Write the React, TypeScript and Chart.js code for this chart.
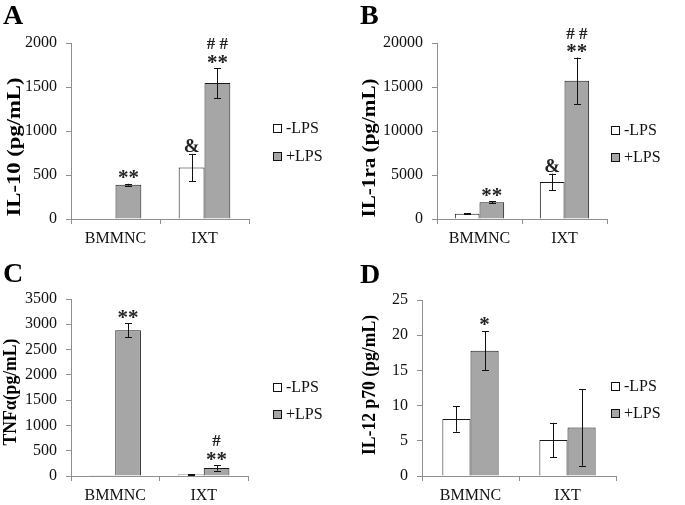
import React, { useEffect, useRef } from "react";
import { Chart, registerables } from "chart.js";

Chart.register(...registerables);

// ---------- data ----------
const categories = ["BMMNC", "IXT"];
const seriesNames = ["-LPS", "+LPS"];
const seriesColors = ["#ffffff", "#a6a6a6"];

// Panel A: IL-10
const il10Ticks = [0, 500, 1000, 1500, 2000];
const il10Minus = [5, 585];
const il10MinusErr = [0, 155];
const il10Plus = [390, 1545];
const il10PlusErr = [10, 170];
const il10MinusMarks = [[], ["&"]];
const il10PlusMarks = [["**"], ["**", "# #"]];

// Panel B: IL-1ra
const il1raTicks = [0, 5000, 10000, 15000, 20000];
const il1raMinus = [600, 4200];
const il1raMinusErr = [70, 950];
const il1raPlus = [1900, 15700];
const il1raPlusErr = [90, 2650];
const il1raMinusMarks = [[], ["&"]];
const il1raPlusMarks = [["**"], ["**", "# #"]];

// Panel C: TNFα
const tnfTicks = [0, 500, 1000, 1500, 2000, 2500, 3000, 3500];
const tnfMinus = [5, 30];
const tnfMinusErr = [0, 5];
const tnfPlus = [2880, 160];
const tnfPlusErr = [140, 55];
const tnfMinusMarks = [[], []];
const tnfPlusMarks = [["**"], ["**", "#"]];

// Panel D: IL-12 p70
const il12Ticks = [0, 5, 10, 15, 20, 25];
const il12Minus = [8.1, 5.1];
const il12MinusErr = [1.8, 2.45];
const il12Plus = [17.8, 6.9];
const il12PlusErr = [2.8, 5.45];
const il12MinusMarks = [[], []];
const il12PlusMarks = [["*"], []];

// ---------- layout ----------
type Box = { x: number; y: number; w: number; h: number };
type Area = { l: number; r: number; t: number; b: number };
type Panel = {
  letter: string;
  title: string;
  titleLen: number;
  ticks: number[];
  minus: number[];
  minusErr: number[];
  plus: number[];
  plusErr: number[];
  minusMarks: string[][];
  plusMarks: string[][];
  box: Box;
  area: Area;
  titlePos: { x: number; y: number };
  letterPos: { x: number; y: number };
  legendPos: { x: number; y1: number; y2: number };
};

const panels: Panel[] = [
  {
    letter: "A",
    title: "IL-10 (pg/mL)",
    titleLen: 139,
    ticks: il10Ticks,
    minus: il10Minus,
    minusErr: il10MinusErr,
    plus: il10Plus,
    plusErr: il10PlusErr,
    minusMarks: il10MinusMarks,
    plusMarks: il10PlusMarks,
    box: { x: 0, y: 0, w: 340, h: 250 },
    area: { l: 71, r: 249, t: 43, b: 219 },
    titlePos: { x: 15, y: 147 },
    letterPos: { x: 3, y: 24 },
    legendPos: { x: 273, y1: 128, y2: 156 },
  },
  {
    letter: "B",
    title: "IL-1ra (pg/mL)",
    titleLen: 139,
    ticks: il1raTicks,
    minus: il1raMinus,
    minusErr: il1raMinusErr,
    plus: il1raPlus,
    plusErr: il1raPlusErr,
    minusMarks: il1raMinusMarks,
    plusMarks: il1raPlusMarks,
    box: { x: 340, y: 0, w: 345, h: 250 },
    area: { l: 437, r: 607, t: 43, b: 219 },
    titlePos: { x: 370, y: 148 },
    letterPos: { x: 360, y: 24 },
    legendPos: { x: 611, y1: 130, y2: 157 },
  },
  {
    letter: "C",
    title: "TNFα(pg/mL)",
    titleLen: 107,
    ticks: tnfTicks,
    minus: tnfMinus,
    minusErr: tnfMinusErr,
    plus: tnfPlus,
    plusErr: tnfPlusErr,
    minusMarks: tnfMinusMarks,
    plusMarks: tnfPlusMarks,
    box: { x: 0, y: 250, w: 340, h: 255 },
    area: { l: 71, r: 248, t: 299, b: 476 },
    titlePos: { x: 11, y: 392 },
    letterPos: { x: 3, y: 282 },
    legendPos: { x: 273, y1: 387, y2: 414 },
  },
  {
    letter: "D",
    title: "IL-12 p70 (pg/mL)",
    titleLen: 140,
    ticks: il12Ticks,
    minus: il12Minus,
    minusErr: il12MinusErr,
    plus: il12Plus,
    plusErr: il12PlusErr,
    minusMarks: il12MinusMarks,
    plusMarks: il12PlusMarks,
    box: { x: 340, y: 250, w: 345, h: 255 },
    area: { l: 422, r: 616, t: 300, b: 476 },
    titlePos: { x: 370, y: 385 },
    letterPos: { x: 360, y: 283 },
    legendPos: { x: 611, y1: 386, y2: 413 },
  },
];

const SERIF = '"Liberation Serif", "Times New Roman", serif';
const AXIS_COLOR = "#8f8f8f";

function makeDecor(p: Panel) {
  const ox = p.box.x;
  const oy = p.box.y;
  return {
    id: "decor" + p.letter,
    afterDatasetsDraw(chart: any) {
      const ctx = chart.ctx as CanvasRenderingContext2D;
      const ys = chart.scales.y;
      const vals = [p.minus, p.plus];
      const errs = [p.minusErr, p.plusErr];
      const marks = [p.minusMarks, p.plusMarks];
      ctx.save();
      for (let d = 0; d < 2; d++) {
        const meta = chart.getDatasetMeta(d);
        meta.data.forEach((bar: any, j: number) => {
          const v = vals[d][j];
          const e = errs[d][j];
          const x = Math.round(bar.x) + 0.5;
          const yt = ys.getPixelForValue(v + e);
          const yb = ys.getPixelForValue(Math.max(v - e, 0));
          if (e > 0) {
            ctx.strokeStyle = "#111";
            ctx.lineWidth = 1;
            ctx.beginPath();
            ctx.moveTo(x, yt);
            ctx.lineTo(x, yb);
            ctx.moveTo(x - 3.5, Math.round(yt) + 0.5);
            ctx.lineTo(x + 3.5, Math.round(yt) + 0.5);
            ctx.moveTo(x - 3.5, Math.round(yb) + 0.5);
            ctx.lineTo(x + 3.5, Math.round(yb) + 0.5);
            ctx.stroke();
          }
          const top = Math.min(yt, ys.getPixelForValue(v));
          (marks[d][j] || []).forEach((txt: string, k: number) => {
            ctx.fillStyle = "#222";
            ctx.textAlign = "center";
            ctx.textBaseline = "alphabetic";
            let by = top;
            if (txt === "&") {
              ctx.font = `bold 19px ${SERIF}`;
              by = top - 2;
            } else if (txt.indexOf("*") >= 0) {
              ctx.font = `bold 21px ${SERIF}`;
              by = top + 0.5 - 16 * k;
            } else {
              ctx.font = `bold 17px ${SERIF}`;
              by = top - 19;
            }
            ctx.fillText(txt, bar.x, by);
          });
        });
      }
      ctx.restore();
    },
    afterDraw(chart: any) {
      const ctx = chart.ctx as CanvasRenderingContext2D;
      ctx.save();
      // panel letter
      ctx.fillStyle = "#000";
      ctx.font = `bold 28px ${SERIF}`;
      ctx.textAlign = "left";
      ctx.textBaseline = "alphabetic";
      ctx.fillText(p.letter, p.letterPos.x - ox, p.letterPos.y - oy);
      // y title (rotated)
      ctx.font = `bold 18px ${SERIF}`;
      const w = ctx.measureText(p.title).width;
      ctx.translate(p.titlePos.x - ox, p.titlePos.y - oy);
      ctx.rotate(-Math.PI / 2);
      ctx.scale(p.titleLen / w, 1);
      ctx.textAlign = "center";
      ctx.textBaseline = "middle";
      ctx.fillText(p.title, 0, 0);
      ctx.restore();
      // legend
      ctx.save();
      const ys = [p.legendPos.y1, p.legendPos.y2];
      chart.data.datasets.forEach((ds: any, i: number) => {
        const cy = ys[i] - oy;
        const sx = p.legendPos.x - ox;
        ctx.fillStyle = ds.backgroundColor;
        ctx.fillRect(sx, Math.round(cy - 4.5), 9, 9);
        ctx.strokeStyle = "#111";
        ctx.lineWidth = 1;
        ctx.strokeRect(sx + 0.5, Math.round(cy - 4.5) + 0.5, 8, 8);
        ctx.fillStyle = "#111";
        ctx.font = `16px ${SERIF}`;
        ctx.textAlign = "left";
        ctx.textBaseline = "middle";
        ctx.fillText(ds.label, sx + 13, cy + 1);
      });
      ctx.restore();
    },
  };
}

function PanelChart({ p }: { p: Panel }) {
  const ref = useRef<HTMLCanvasElement | null>(null);
  useEffect(() => {
    if (!ref.current) return;
    const lLocal = p.area.l - p.box.x;
    const rLocal = p.area.r - p.box.x;
    const tLocal = p.area.t - p.box.y;
    const bLocal = p.area.b - p.box.y;
    const tickMin = p.ticks[0];
    const tickMax = p.ticks[p.ticks.length - 1];
    const step = p.ticks[1] - p.ticks[0];
    const chart = new Chart(ref.current, {
      type: "bar",
      data: {
        labels: categories,
        datasets: [
          {
            label: seriesNames[0],
            data: p.minus,
            backgroundColor: seriesColors[0],
            borderColor: "#1a1a1a",
            borderWidth: 1,
            categoryPercentage: 0.58,
            barPercentage: 1.0,
          },
          {
            label: seriesNames[1],
            data: p.plus,
            backgroundColor: seriesColors[1],
            borderColor: "#1a1a1a",
            borderWidth: 1,
            categoryPercentage: 0.58,
            barPercentage: 1.0,
          },
        ],
      },
      options: {
        responsive: false,
        animation: false,
        devicePixelRatio: 1,
        layout: {
          padding: { left: 0, top: tLocal, right: p.box.w - rLocal, bottom: 0 },
        },
        plugins: {
          legend: { display: false },
          tooltip: { enabled: false },
        },
        scales: {
          x: {
            offset: true,
            grid: {
              display: true,
              offset: true,
              drawOnChartArea: false,
              drawTicks: true,
              tickLength: 5,
              color: AXIS_COLOR,
            },
            border: { display: true, color: AXIS_COLOR, width: 1 },
            ticks: {
              color: "#111",
              font: { family: SERIF, size: 16 },
              padding: 5,
              maxRotation: 0,
            },
            afterFit: (s: any) => {
              s.height = p.box.h - bLocal;
            },
          },
          y: {
            min: tickMin,
            max: tickMax,
            grid: {
              display: true,
              drawOnChartArea: false,
              drawTicks: true,
              tickLength: 5,
              color: AXIS_COLOR,
            },
            border: { display: true, color: AXIS_COLOR, width: 1 },
            ticks: {
              stepSize: step,
              color: "#111",
              font: { family: SERIF, size: 16 },
              padding: 9,
              callback: (v: any) => String(v),
            },
            afterFit: (s: any) => {
              s.width = lLocal;
            },
          },
        },
      },
      plugins: [makeDecor(p)],
    } as any);
    return () => chart.destroy();
  }, [p]);
  return (
    <canvas
      ref={ref}
      width={p.box.w}
      height={p.box.h}
      style={{
        position: "absolute",
        left: p.box.x,
        top: p.box.y,
        width: p.box.w,
        height: p.box.h,
      }}
    />
  );
}

export default function App() {
  return (
    <div
      style={{
        position: "fixed",
        left: 0,
        top: 0,
        width: 685,
        height: 505,
        background: "#fff",
        overflow: "hidden",
      }}
    >
      {panels.map((p) => (
        <PanelChart key={p.letter} p={p} />
      ))}
    </div>
  );
}
